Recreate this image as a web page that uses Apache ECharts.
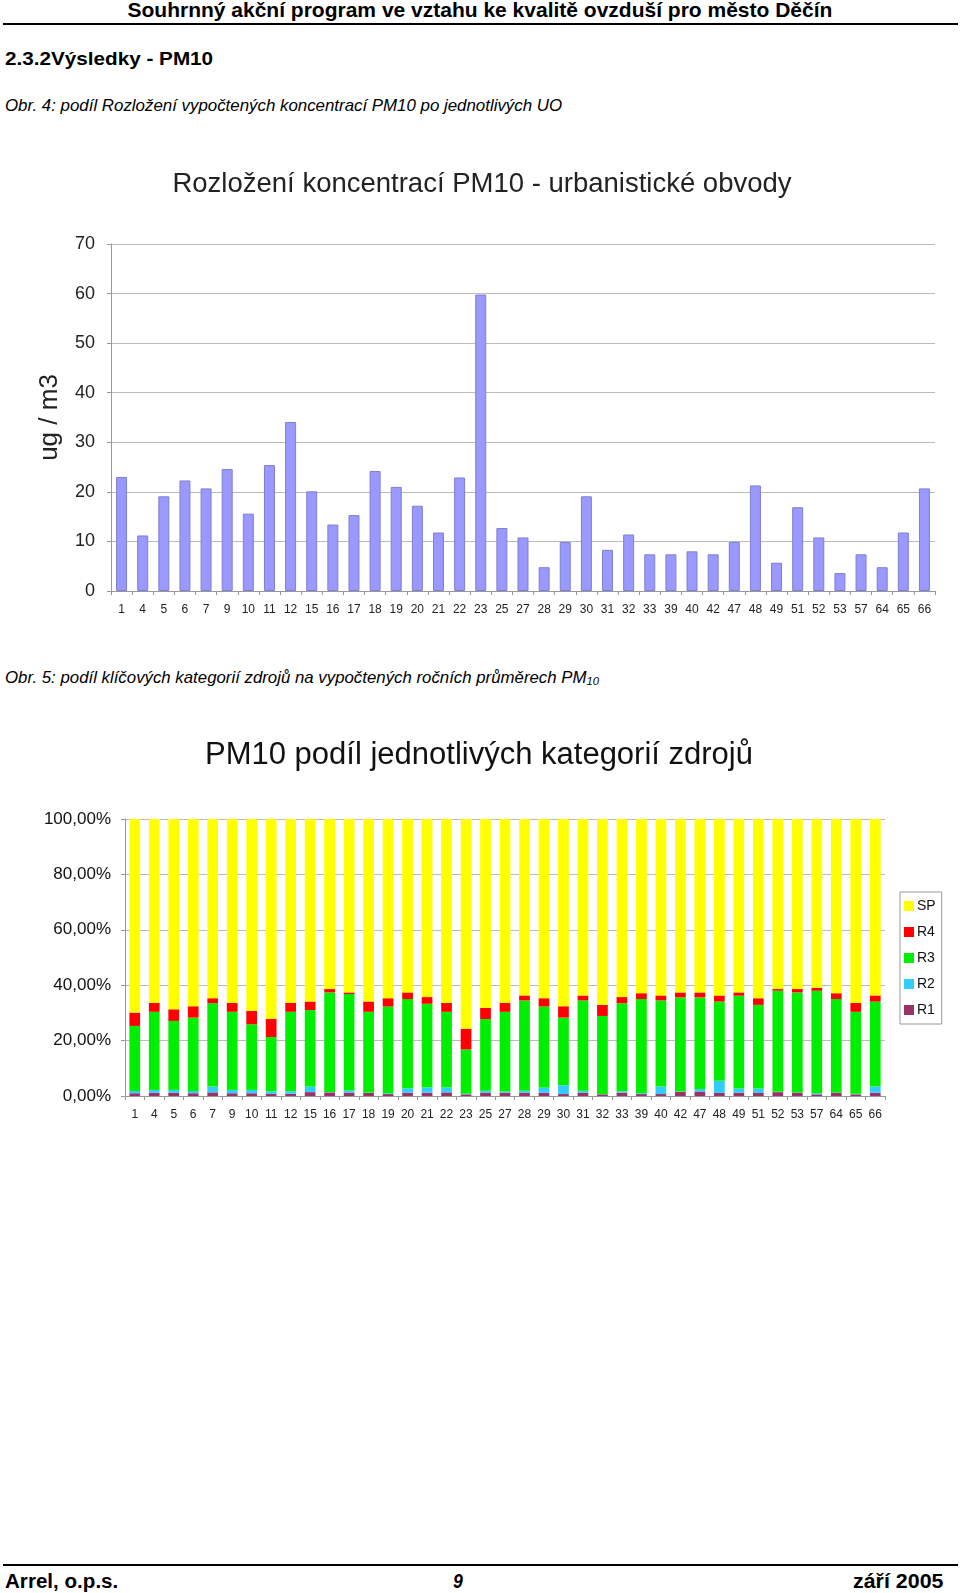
<!DOCTYPE html>
<html>
<head>
<meta charset="utf-8">
<script src="https://cdn.jsdelivr.net/npm/echarts@6/dist/echarts.min.js"></script>
<style>
html,body{margin:0;padding:0;background:#fff;}
body{width:960px;height:1593px;position:relative;overflow:hidden;font-family:"Liberation Sans",Arial,sans-serif;color:#000;}
.abs{position:absolute;white-space:nowrap;display:inline-block;}
#hdr{left:480px;top:-2px;font-size:21px;font-weight:bold;transform-origin:0 0;}
#hline{left:3px;width:955px;top:23px;height:0;border-top:2.5px solid #000;}
#sec{left:5px;top:49px;font-size:18px;font-weight:bold;transform-origin:0 0;}
#cap1{left:5px;top:96px;font-size:16.5px;font-style:italic;transform-origin:0 0;}
#cap2{left:5px;top:668px;font-size:16.5px;font-style:italic;transform-origin:0 0;}
#cap2 sub{font-size:11px;vertical-align:-2px;}
#fline{left:3px;width:955px;top:1564px;height:0;border-top:2.5px solid #000;}
#f1{left:5px;top:1570px;font-size:19.5px;font-weight:bold;transform-origin:0 0;}
#f2{left:453px;top:1570px;font-size:19.5px;font-weight:bold;font-style:italic;transform-origin:0 0;}
#f3{left:853px;top:1570px;font-size:19.5px;font-weight:bold;transform-origin:0 0;}
#c1{position:absolute;left:0;top:140px;width:960px;height:500px;}
#c2{position:absolute;left:0;top:700px;width:960px;height:440px;}
</style>
</head>
<body>
<div id="hdr" class="abs" data-w="705" data-c="1">Souhrnný akční program ve vztahu ke kvalitě ovzduší pro město Děčín</div>
<div id="hline" class="abs"></div>
<div id="sec" class="abs" data-w="208">2.3.2Výsledky - PM10</div>
<div id="cap1" class="abs" data-w="557">Obr. 4: podíl Rozložení vypočtených koncentrací PM10 po jednotlivých UO</div>
<div id="c1"></div>
<div id="cap2" class="abs" data-w="594">Obr. 5: podíl klíčových kategorií zdrojů na vypočtených ročních průměrech PM<sub>10</sub></div>
<div id="c2"></div>
<div id="fline" class="abs"></div>
<div id="f1" class="abs" data-w="113">Arrel, o.p.s.</div>
<div id="f2" class="abs" data-w="10">9</div>
<div id="f3" class="abs" data-w="90">září 2005</div>
<script>
// Categories (urbanistické obvody)
var categories = ['1','4','5','6','7','9','10','11','12','15','16','17','18','19','20','21','22','23','25','27','28','29','30','31','32','33','39','40','42','47','48','49','51','52','53','57','64','65','66'];
// Chart 1: PM10 concentrations (ug/m3)
var pm10 = [23,11.2,19.1,22.3,20.7,24.6,15.6,25.4,34.1,20.1,13.4,15.3,24.2,21.0,17.2,11.8,22.9,59.8,12.7,10.8,4.8,9.9,19.1,8.3,11.4,7.4,7.4,8.0,7.4,9.9,21.3,5.7,16.9,10.8,3.6,7.4,4.8,11.8,20.7];
var yTicks1 = [0,10,20,30,40,50,60,70];
// Chart 2: shares of source categories (%)
var R1 = [1.0,1.2,1.2,1.0,1.3,1.0,1.0,0.8,0.8,1.4,1.3,1.2,1.1,0.7,1.2,1.2,1.3,0.6,1.2,1.2,1.2,1.2,0.7,1.2,0.6,1.2,0.7,0.7,1.5,1.6,1.1,1.2,1.1,1.4,1.2,0.6,1.2,0.6,1.2];
var R2 = [0.8,1.0,1.0,0.8,2.1,1.2,1.2,0.9,0.9,2.0,0.1,0.8,0.1,0.3,1.6,1.9,1.8,0.2,0.7,0.4,0.7,1.8,3.2,0.7,0.1,0.5,0.3,2.7,0.1,0.9,4.4,1.5,1.6,0.1,0.1,0.4,0.1,0.2,2.2];
var R3 = [23.5,28.2,24.9,26.5,30.1,28.2,23.7,19.6,28.7,27.6,36.0,34.8,29.2,31.3,32.2,30.2,27.3,16.0,25.9,28.8,32.6,29.3,24.4,32.6,28.2,31.8,34.0,31.1,34.0,33.1,28.6,33.5,30.2,36.5,36.1,37.0,33.7,29.6,30.7];
var R4 = [4.8,3.2,4.2,4.1,1.8,3.2,4.8,6.5,3.2,3.1,1.2,0.6,3.7,3.0,2.4,2.4,3.2,7.5,4.0,3.2,1.8,3.0,4.1,1.8,4.0,2.2,2.1,1.8,1.8,1.8,2.2,1.2,2.4,0.6,1.2,1.1,2.1,3.2,2.2];
var SP = [69.9,66.4,68.7,67.6,64.7,66.4,69.3,72.2,66.4,65.9,61.4,62.6,65.9,64.7,62.6,64.3,66.4,75.7,68.2,66.4,63.7,64.7,67.6,63.7,67.1,64.3,62.9,63.7,62.6,62.6,63.7,62.6,64.7,61.4,61.4,60.9,62.9,66.4,63.7];
var yTicks2 = [0,20,40,60,80,100];

// fit page texts to the widths they have in the original
document.querySelectorAll('[data-w]').forEach(function(el){
  var w = el.offsetWidth, t = +el.getAttribute('data-w');
  var s = t / w;
  if (el.getAttribute('data-c')) {
    el.style.left = (480 - t/2) + 'px';
  }
  el.style.transform = 'scaleX(' + s + ')';
});

var c1 = echarts.init(document.getElementById('c1'), null, {renderer:'canvas'});
c1.setOption({
  animation:false,
  title:{text:'Rozložení koncentrací PM10 - urbanistické obvody', left:477, textAlign:'center', top:25,
    textStyle:{fontFamily:'Liberation Sans', fontSize:27.5, fontWeight:'normal', color:'#222'}},
  grid:{left:111, right:25, top:104, bottom:49},
  xAxis:{type:'category', data:categories,
    axisLine:{lineStyle:{color:'#999'}}, axisTick:{show:true, length:4, lineStyle:{color:'#999'}},
    axisLabel:{interval:0, fontSize:12, color:'#222', fontFamily:'Liberation Sans', margin:13}},
  yAxis:{type:'value', min:yTicks1[0], max:yTicks1[yTicks1.length-1], interval:10,
    name:'ug / m3', nameLocation:'middle', nameGap:48, nameRotate:90,
    nameTextStyle:{fontSize:26, color:'#222', fontFamily:'Liberation Sans'},
    axisLine:{show:true, lineStyle:{color:'#999'}}, axisTick:{show:true, length:4, lineStyle:{color:'#999'}},
    splitLine:{lineStyle:{color:'#bbb'}},
    axisLabel:{fontSize:18, color:'#222', margin:16, fontFamily:'Liberation Sans'}},
  series:[{type:'bar', data:pm10, barWidth:'52%',
    itemStyle:{color:'#9999ff', borderColor:'#7f7fd0', borderWidth:1}}]
});

var c2 = echarts.init(document.getElementById('c2'), null, {renderer:'canvas'});
var colors = {R1:'#993366', R2:'#33ccff', R3:'#00ee00', R4:'#ff0000', SP:'#ffff00'};
var seriesData = [['R1',R1],['R2',R2],['R3',R3],['R4',R4],['SP',SP]];
c2.setOption({
  animation:false,
  title:{text:'PM10 podíl jednotlivých kategorií zdrojů', left:474, textAlign:'center', top:35,
    textStyle:{fontFamily:'Liberation Sans', fontSize:31, fontWeight:'normal', color:'#111'}},
  legend:{orient:'vertical', left:900, top:192, data:['SP','R4','R3','R2','R1'],
    itemWidth:10, itemHeight:10, itemGap:12, icon:'rect',
    padding:[7,6,7,4], borderColor:'#999', borderWidth:1,
    textStyle:{fontSize:14, color:'#111', fontFamily:'Liberation Sans', padding:[0,0,0,-2]}},
  grid:{left:125, right:75, top:119, bottom:44},
  xAxis:{type:'category', data:categories,
    axisLine:{lineStyle:{color:'#999'}}, axisTick:{show:true, length:4, lineStyle:{color:'#999'}},
    axisLabel:{interval:0, fontSize:12, color:'#222', fontFamily:'Liberation Sans', margin:13}},
  yAxis:{type:'value', min:yTicks2[0], max:yTicks2[yTicks2.length-1], interval:20,
    axisLine:{show:true, lineStyle:{color:'#999'}}, axisTick:{show:true, length:4, lineStyle:{color:'#999'}},
    splitLine:{lineStyle:{color:'#bbb'}},
    axisLabel:{fontSize:17, color:'#111', margin:14, fontFamily:'Liberation Sans',
      formatter:function(v){return v.toFixed(2).replace('.',',')+'%';}}},
  series:seriesData.map(function(s){
    return {name:s[0], type:'bar', stack:'all', data:s[1], barWidth:'55%',
      itemStyle:{color:colors[s[0]]}};
  })
});
</script>
</body>
</html>
